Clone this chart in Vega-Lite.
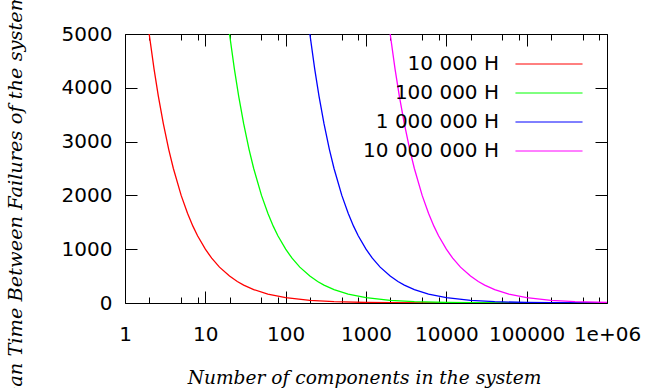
{
  "$schema": "https://vega.github.io/schema/vega-lite/v6.json",
  "width": 482,
  "height": 269,
  "autosize": {"type": "none"},
  "padding": {"left": 125, "top": 34, "right": 39, "bottom": 85},
  "background": "white",
  "config": {
    "view": {"stroke": "#000", "strokeWidth": 1},
    "axis": {
      "domain": false, "grid": false, "tickColor": "#000", "tickWidth": 1,
      "labelFont": "DejaVu Sans", "labelFontSize": 20, "labelColor": "#000",
      "titleFont": "DejaVu Serif", "titleFontStyle": "italic", "titleFontWeight": "normal",
      "titleFontSize": 18.6, "titleColor": "#000"
    }
  },
  "data": {"values": [
    {"s": "10 000 H", "n": 2, "y": 5000}, {"s": "10 000 H", "n": 2.3, "y": 4347.8}, {"s": "10 000 H", "n": 2.6, "y": 3846.2}, {"s": "10 000 H", "n": 3, "y": 3333.3}, {"s": "10 000 H", "n": 3.5, "y": 2857.1}, {"s": "10 000 H", "n": 4, "y": 2500}, {"s": "10 000 H", "n": 5, "y": 2000}, {"s": "10 000 H", "n": 6, "y": 1666.7}, {"s": "10 000 H", "n": 7, "y": 1428.6}, {"s": "10 000 H", "n": 8, "y": 1250}, {"s": "10 000 H", "n": 10, "y": 1000}, {"s": "10 000 H", "n": 12, "y": 833.3}, {"s": "10 000 H", "n": 15, "y": 666.7}, {"s": "10 000 H", "n": 20, "y": 500}, {"s": "10 000 H", "n": 25, "y": 400}, {"s": "10 000 H", "n": 30, "y": 333.3}, {"s": "10 000 H", "n": 40, "y": 250}, {"s": "10 000 H", "n": 60, "y": 166.7}, {"s": "10 000 H", "n": 100, "y": 100}, {"s": "10 000 H", "n": 200, "y": 50}, {"s": "10 000 H", "n": 400, "y": 25}, {"s": "10 000 H", "n": 1000, "y": 10}, {"s": "10 000 H", "n": 2000, "y": 5}, {"s": "10 000 H", "n": 10000, "y": 1}, {"s": "10 000 H", "n": 100000, "y": 0.1}, {"s": "10 000 H", "n": 1000000, "y": 0.01},
    {"s": "100 000 H", "n": 20, "y": 5000}, {"s": "100 000 H", "n": 23, "y": 4347.8}, {"s": "100 000 H", "n": 26, "y": 3846.2}, {"s": "100 000 H", "n": 30, "y": 3333.3}, {"s": "100 000 H", "n": 35, "y": 2857.1}, {"s": "100 000 H", "n": 40, "y": 2500}, {"s": "100 000 H", "n": 50, "y": 2000}, {"s": "100 000 H", "n": 60, "y": 1666.7}, {"s": "100 000 H", "n": 70, "y": 1428.6}, {"s": "100 000 H", "n": 80, "y": 1250}, {"s": "100 000 H", "n": 100, "y": 1000}, {"s": "100 000 H", "n": 120, "y": 833.3}, {"s": "100 000 H", "n": 150, "y": 666.7}, {"s": "100 000 H", "n": 200, "y": 500}, {"s": "100 000 H", "n": 250, "y": 400}, {"s": "100 000 H", "n": 300, "y": 333.3}, {"s": "100 000 H", "n": 400, "y": 250}, {"s": "100 000 H", "n": 600, "y": 166.7}, {"s": "100 000 H", "n": 1000, "y": 100}, {"s": "100 000 H", "n": 2000, "y": 50}, {"s": "100 000 H", "n": 4000, "y": 25}, {"s": "100 000 H", "n": 10000, "y": 10}, {"s": "100 000 H", "n": 20000, "y": 5}, {"s": "100 000 H", "n": 100000, "y": 1}, {"s": "100 000 H", "n": 1000000, "y": 0.1},
    {"s": "1 000 000 H", "n": 200, "y": 5000}, {"s": "1 000 000 H", "n": 230, "y": 4347.8}, {"s": "1 000 000 H", "n": 260, "y": 3846.2}, {"s": "1 000 000 H", "n": 300, "y": 3333.3}, {"s": "1 000 000 H", "n": 350, "y": 2857.1}, {"s": "1 000 000 H", "n": 400, "y": 2500}, {"s": "1 000 000 H", "n": 500, "y": 2000}, {"s": "1 000 000 H", "n": 600, "y": 1666.7}, {"s": "1 000 000 H", "n": 700, "y": 1428.6}, {"s": "1 000 000 H", "n": 800, "y": 1250}, {"s": "1 000 000 H", "n": 1000, "y": 1000}, {"s": "1 000 000 H", "n": 1200, "y": 833.3}, {"s": "1 000 000 H", "n": 1500, "y": 666.7}, {"s": "1 000 000 H", "n": 2000, "y": 500}, {"s": "1 000 000 H", "n": 2500, "y": 400}, {"s": "1 000 000 H", "n": 3000, "y": 333.3}, {"s": "1 000 000 H", "n": 4000, "y": 250}, {"s": "1 000 000 H", "n": 6000, "y": 166.7}, {"s": "1 000 000 H", "n": 10000, "y": 100}, {"s": "1 000 000 H", "n": 20000, "y": 50}, {"s": "1 000 000 H", "n": 40000, "y": 25}, {"s": "1 000 000 H", "n": 100000, "y": 10}, {"s": "1 000 000 H", "n": 200000, "y": 5}, {"s": "1 000 000 H", "n": 1000000, "y": 1},
    {"s": "10 000 000 H", "n": 2000, "y": 5000}, {"s": "10 000 000 H", "n": 2300, "y": 4347.8}, {"s": "10 000 000 H", "n": 2600, "y": 3846.2}, {"s": "10 000 000 H", "n": 3000, "y": 3333.3}, {"s": "10 000 000 H", "n": 3500, "y": 2857.1}, {"s": "10 000 000 H", "n": 4000, "y": 2500}, {"s": "10 000 000 H", "n": 5000, "y": 2000}, {"s": "10 000 000 H", "n": 6000, "y": 1666.7}, {"s": "10 000 000 H", "n": 7000, "y": 1428.6}, {"s": "10 000 000 H", "n": 8000, "y": 1250}, {"s": "10 000 000 H", "n": 10000, "y": 1000}, {"s": "10 000 000 H", "n": 12000, "y": 833.3}, {"s": "10 000 000 H", "n": 15000, "y": 666.7}, {"s": "10 000 000 H", "n": 20000, "y": 500}, {"s": "10 000 000 H", "n": 25000, "y": 400}, {"s": "10 000 000 H", "n": 30000, "y": 333.3}, {"s": "10 000 000 H", "n": 40000, "y": 250}, {"s": "10 000 000 H", "n": 60000, "y": 166.7}, {"s": "10 000 000 H", "n": 100000, "y": 100}, {"s": "10 000 000 H", "n": 200000, "y": 50}, {"s": "10 000 000 H", "n": 400000, "y": 25}, {"s": "10 000 000 H", "n": 1000000, "y": 10}
  ]},
  "resolve": {"axis": {"x": "independent", "y": "independent"}},
  "layer": [
    {
      "mark": {"type": "line", "strokeWidth": 1.3, "clip": true},
      "encoding": {
        "x": {
          "field": "n", "type": "quantitative",
          "scale": {"type": "log", "domain": [1, 1000000], "nice": false},
          "axis": {
            "orient": "bottom", "values": [1, 10, 100, 1000, 10000, 100000, 1000000],
            "tickSize": -12, "labelPadding": 49, "labelBaseline": "alphabetic",
            "labelFlush": false, "labelOverlap": false,
            "labelExpr": "datum.value >= 1000000 ? '1e+06' : format(datum.value, 'd')",
            "title": "Number of components in the system",
            "titleX": 239, "titleY": 80, "titleBaseline": "alphabetic", "titleAlign": "center"
          }
        },
        "y": {
          "field": "y", "type": "quantitative",
          "scale": {"domain": [0, 5000], "nice": false},
          "axis": {
            "orient": "left", "values": [0, 1000, 2000, 3000, 4000, 5000],
            "tickSize": -12, "labelPadding": 25, "labelFlush": false, "labelOverlap": false,
            "labelExpr": "format(datum.value, 'd')",
            "title": "Mean Time Between Failures of the system",
            "titleFontSize": 19.4,
            "titleX": -104, "titleY": 171, "titleAngle": 270, "titleAlign": "center", "titleBaseline": "alphabetic"
          }
        },
        "color": {
          "field": "s", "type": "nominal",
          "scale": {"domain": ["10 000 H", "100 000 H", "1 000 000 H", "10 000 000 H"], "range": ["#ff0000", "#00ff00", "#0000ff", "#ff00ff"]},
          "legend": {
            "title": null, "orient": "none", "legendX": 414, "legendY": 20, "padding": 0,
            "symbolType": "M-5,0H5", "symbolSize": 180, "symbolStrokeWidth": 1,
            "labelFont": "DejaVu Sans", "labelFontSize": 20, "labelColor": "#000",
            "labelAlign": "right", "labelOffset": -60, "rowPadding": 9, "labelLimit": 0
          }
        }
      }
    },
    {
      "mark": {"type": "line", "strokeOpacity": 0},
      "encoding": {
        "x": {"field": "n", "type": "quantitative", "axis": {"orient": "bottom", "values": [2, 5, 8, 20, 50, 80, 200, 500, 800, 2000, 5000, 8000, 20000, 50000, 80000, 200000, 500000, 800000], "tickSize": -6, "labels": false, "title": null}},
        "y": {"field": "y", "type": "quantitative", "axis": {"orient": "right", "values": [0, 1000, 2000, 3000, 4000, 5000], "tickSize": -12, "labels": false, "title": null}}
      }
    },
    {
      "mark": {"type": "line", "strokeOpacity": 0},
      "encoding": {
        "x": {"field": "n", "type": "quantitative", "axis": {"orient": "top", "values": [1, 10, 100, 1000, 10000, 100000, 1000000], "tickSize": -12, "labels": false, "title": null}},
        "y": {"field": "y", "type": "quantitative", "axis": null}
      }
    },
    {
      "mark": {"type": "line", "strokeOpacity": 0},
      "encoding": {
        "x": {"field": "n", "type": "quantitative", "axis": {"orient": "top", "values": [2, 5, 8, 20, 50, 80, 200, 500, 800, 2000, 5000, 8000, 20000, 50000, 80000, 200000, 500000, 800000], "tickSize": -6, "labels": false, "title": null}},
        "y": {"field": "y", "type": "quantitative", "axis": null}
      }
    }
  ]
}
